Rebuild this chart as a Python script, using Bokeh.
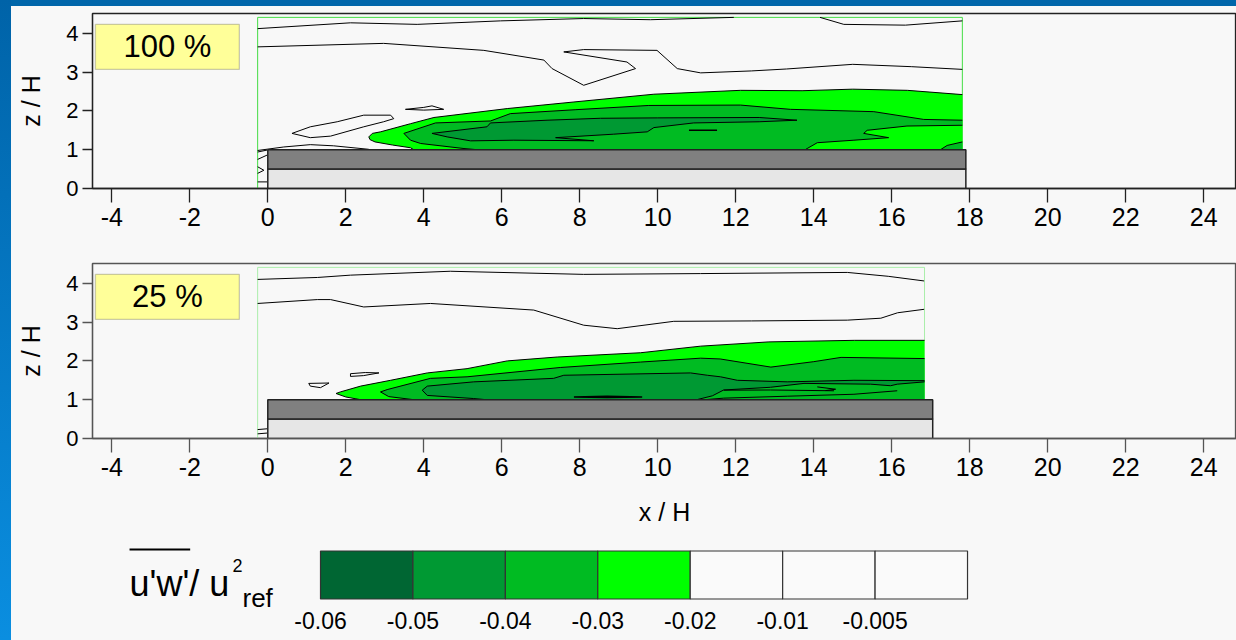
from bokeh.plotting import figure
from bokeh.layouts import column, row
from bokeh.models import Range1d, FixedTicker, BoxAnnotation, Label, ColumnDataSource, Div
from bokeh.core.properties import value
from bokeh.embed import file_html
from bokeh.resources import INLINE

# ---------------- data ----------------
X_TICKS = [-4, -2, 0, 2, 4, 6, 8, 10, 12, 14, 16, 18, 20, 22, 24]
Z_TICKS = [0, 1, 2, 3, 4]
LEVEL_LABELS = ["-0.06", "-0.05", "-0.04", "-0.03", "-0.02", "-0.01", "-0.005"]
LEVEL_COLORS = ["#006633", "#009933", "#00bb22", "#00ff00", "#fafafa", "#fafafa", "#fafafa"]
PANEL_LABELS = ["100 %", "25 %"]

BUILDING_LENGTH = [17.9, 17.05]
BUILDING_HEIGHT = 1.0
BUILDING_SPLIT = 0.5
MEAS_X0 = -0.26
MEAS_X1 = [17.81, 16.84]
MEAS_Z1 = 4.41

# ---- panel 1 (100 %) contour lines ----
P1_G2_TOP_X = [2.59, 2.68, 2.89, 3.66, 4.26, 6.14, 7.85, 9.90, 12.12, 13.7, 15.0, 16.4, 17.81]
P1_G2_TOP_Z = [1.33, 1.42, 1.46, 1.67, 1.83, 2.06, 2.23, 2.43, 2.53, 2.52, 2.56, 2.53, 2.42]
P1_G2_BOT_X = [2.59, 2.62, 2.75, 3.2, 3.66, 3.74]
P1_G2_BOT_Z = [1.33, 1.26, 1.20, 1.12, 1.05, 1.0]

P1_G3_TOP_X = [3.49, 4.30, 5.71, 6.22, 7.88, 9.77, 12.12, 13.40, 15.54, 16.82, 17.81]
P1_G3_TOP_Z = [1.42, 1.69, 1.74, 1.93, 2.03, 2.14, 2.15, 2.04, 1.98, 1.78, 1.76]
P1_G3_RGT_X = [17.81, 16.39, 15.37, 15.28, 15.92, 15.03, 14.09, 13.83, 13.78]
P1_G3_RGT_Z = [1.63, 1.61, 1.50, 1.42, 1.31, 1.245, 1.18, 1.03, 1.0]
P1_G3_LFT_X = [3.49, 3.66, 3.92, 5.03, 5.37]
P1_G3_LFT_Z = [1.42, 1.245, 1.16, 1.03, 1.0]
P1_G3_BUMP_X = [17.25, 17.42, 17.81]
P1_G3_BUMP_Z = [1.0, 1.11, 1.20]

P1_G4_X = [4.21, 5.62, 5.71, 7.16, 8.53, 10.0, 12.6, 13.57, 12.6, 10.92, 9.90, 9.73, 8.87, 7.38, 8.36, 6.31, 5.20, 4.60, 4.21]
P1_G4_Z = [1.42, 1.59, 1.69, 1.76, 1.81, 1.82, 1.83, 1.76, 1.72, 1.69, 1.57, 1.46, 1.40, 1.31, 1.23, 1.245, 1.228, 1.33, 1.42]
P1_G5_X = [10.8, 11.52]
P1_G5_Z = [1.50, 1.50]

P1_W_X = [
    [-0.26, 2.12, 3.83, 5.97, 8.10, 9.81, 11.95],
    [14.16, 14.77, 16.35, 17.81],
    [-0.26, 2.97, 5.54, 7.08, 7.29, 8.10, 9.43, 9.21, 7.59, 8.10, 9.98, 10.5, 11.1, 12.4, 13.3, 15.0, 16.5, 17.81],
    [3.53, 4.0, 4.21, 4.51, 4.0, 3.53],
    [0.62, 1.09, 1.78, 2.46, 3.15, 3.23, 2.97, 2.46, 1.61, 1.09, 0.62],
    [-0.26, 0.41, 1.09, 1.69, 2.59],
    [-0.26, -0.02],
    [-0.26, -0.02],
    [-0.26, -0.10, -0.26],
    [-0.26, -0.02],
]
P1_W_Z = [
    [4.12, 4.27, 4.23, 4.32, 4.38, 4.35, 4.41],
    [4.41, 4.23, 4.21, 4.32],
    [3.65, 3.74, 3.56, 3.31, 3.09, 2.66, 3.09, 3.26, 3.52, 3.58, 3.56, 3.09, 2.98, 3.03, 3.08, 3.20, 3.14, 3.07],
    [2.04, 2.09, 2.13, 2.04, 2.02, 2.04],
    [1.42, 1.59, 1.72, 1.89, 1.89, 1.80, 1.72, 1.59, 1.35, 1.31, 1.42],
    [0.98, 1.07, 1.13, 1.10, 1.01],
    [0.94, 0.99],
    [0.75, 0.86],
    [0.56, 0.47, 0.39],
    [0.17, 0.17],
]

# ---- panel 2 (25 %) contour lines ----
P2_G2_TOP_X = [1.75, 1.86, 2.38, 3.15, 4.09, 5.11, 6.14, 7.42, 9.56, 11.1, 12.85, 15.04, 16.84]
P2_G2_TOP_Z = [1.16, 1.20, 1.35, 1.50, 1.69, 1.80, 2.00, 2.10, 2.21, 2.38, 2.49, 2.53, 2.53]
P2_G2_BOT_X = [1.75, 2.0, 2.38]
P2_G2_BOT_Z = [1.16, 1.07, 1.0]

P2_G3_TOP_X = [2.89, 3.06, 4.17, 5.11, 7.5, 9.56, 11.1, 11.6, 12.9, 14.0, 14.7, 16.84]
P2_G3_TOP_Z = [1.20, 1.26, 1.55, 1.59, 1.83, 1.97, 2.07, 2.05, 1.84, 1.98, 2.09, 2.06]
P2_G3_BOT_X = [2.89, 3.1, 3.74]
P2_G3_BOT_Z = [1.20, 1.08, 1.0]

P2_G4_TOP_X = [3.96, 4.09, 5.28, 7.33, 7.59, 10.84, 11.27, 11.61, 12.04, 13.32, 15.03, 16.84]
P2_G4_TOP_Z = [1.245, 1.35, 1.46, 1.55, 1.63, 1.69, 1.63, 1.59, 1.50, 1.46, 1.50, 1.49]
P2_G4_RGT_X = [16.84, 16.14, 15.97, 15.46, 13.75, 12.89, 11.69, 11.4, 11.0]
P2_G4_RGT_Z = [1.46, 1.40, 1.36, 1.40, 1.42, 1.32, 1.25, 1.10, 1.0]
P2_G4_LFT_X = [3.96, 4.09, 5.28, 5.6]
P2_G4_LFT_Z = [1.245, 1.11, 1.03, 1.0]

P2_G5_X = [7.85, 8.7, 9.6, 8.7, 7.85]
P2_G5_Z = [1.07, 1.09, 1.07, 1.055, 1.07]
P2_L_X = [
    [11.69, 12.89, 14.52],
    [14.09, 14.56, 14.3],
    [16.14, 15.03, 13.32, 11.69, 11.2],
]
P2_L_Z = [
    [1.245, 1.25, 1.23],
    [1.33, 1.27, 1.235],
    [1.23, 1.14, 1.09, 1.04, 1.0],
]

P2_W_X = [
    [-0.26, 1.27, 2.12, 4.68, 8.10, 11.1, 14.86, 15.91, 16.83],
    [-0.26, 1.27, 1.61, 2.46, 4.17, 6.82, 8.10, 8.96, 10.41, 12.4, 14.86, 15.72, 16.15, 16.83],
    [1.05, 1.57, 1.35, 1.09, 1.05],
    [2.12, 2.5, 2.85, 2.45, 2.12, 2.12],
    [-0.26, -0.02],
    [-0.26, -0.02],
]
P2_W_Z = [
    [4.10, 4.15, 4.21, 4.31, 4.23, 4.25, 4.28, 4.18, 4.06],
    [3.48, 3.58, 3.58, 3.39, 3.48, 3.31, 2.92, 2.83, 3.02, 3.03, 3.05, 3.10, 3.24, 3.33],
    [1.42, 1.43, 1.31, 1.35, 1.42],
    [1.67, 1.70, 1.69, 1.62, 1.60, 1.67],
    [0.23, 0.25],
    [0.12, 0.14],
]

# ---------------- styling ----------------
FONT = "Liberation Sans"
BG = "#f8f8f8"
C_BRIGHT, C_MID, C_DARK, C_DARKEST = LEVEL_COLORS[3], LEVEL_COLORS[2], LEVEL_COLORS[1], LEVEL_COLORS[0]
FIG_W = 1225
LEFT_B = 81


def chain(*segs):
    xs, zs = [], []
    for sx, sz, rev in segs:
        if rev:
            sx, sz = sx[::-1], sz[::-1]
        xs += list(sx)
        zs += list(sz)
    return xs, zs


def make_panel(height, min_top, min_bottom, frame_col, meas_col, idx, xlabel):
    p = figure(width=FIG_W, height=height,
               x_range=Range1d(-4.495, 24.84), y_range=Range1d(0, 4.51),
               output_backend="svg", toolbar_location=None,
               min_border_left=LEFT_B, min_border_right=0,
               min_border_top=min_top, min_border_bottom=min_bottom)
    p.background_fill_color = BG
    p.border_fill_color = BG
    p.outline_line_color = frame_col
    p.outline_line_width = 1.3
    p.grid.visible = False
    for ax in (p.xaxis, p.yaxis):
        ax.axis_line_color = frame_col
        ax.axis_line_width = 1.3
        ax.major_tick_line_color = frame_col
        ax.major_tick_line_width = 1.3
        ax.minor_tick_line_color = None
        ax.major_tick_in = 0
        ax.major_label_text_font = FONT
        ax.major_label_text_color = "black"
        ax.axis_label_text_font = FONT
        ax.axis_label_text_font_style = "normal"
        ax.axis_label_text_font_size = "25px"
        ax.axis_label_text_color = "black"
    p.xaxis.ticker = FixedTicker(ticks=X_TICKS)
    p.yaxis.ticker = FixedTicker(ticks=Z_TICKS)
    p.xaxis.major_label_overrides = {t: str(t) for t in X_TICKS}
    p.yaxis.major_label_overrides = {t: str(t) for t in Z_TICKS}
    p.xaxis.major_tick_out = 14
    p.yaxis.major_tick_out = 10
    p.xaxis.major_label_text_font_size = "25px"
    p.yaxis.major_label_text_font_size = "22px"
    p.xaxis.major_label_standoff = 5
    p.yaxis.major_label_standoff = 4
    p.yaxis.axis_label = "z / H"
    p.yaxis.axis_label_standoff = 18
    if xlabel:
        p.xaxis.axis_label = xlabel
        p.xaxis.axis_label_standoff = 19

    # measurement region outline
    p.line(x=[MEAS_X0, MEAS_X0, MEAS_X1[idx], MEAS_X1[idx]], y=[0, MEAS_Z1, MEAS_Z1, 0],
           line_color=meas_col, line_width=1)

    # label box
    p.add_layout(BoxAnnotation(left=-4.42, right=-0.73, bottom=3.07, top=4.23,
                               fill_color="#ffff99", fill_alpha=1.0,
                               line_color="#555555", line_width=1.3, level="overlay"))
    p.add_layout(Label(x=-2.575, y=3.65, text=PANEL_LABELS[idx], text_align="center",
                       text_baseline="middle", text_font=FONT,
                       text_font_size="31px", text_color="black", level="overlay"))
    return p


def add_building(p, idx):
    L = BUILDING_LENGTH[idx]
    p.quad(left=[0, 0], right=[L, L], bottom=[0, BUILDING_SPLIT],
           top=[BUILDING_SPLIT, BUILDING_HEIGHT],
           fill_color=["#e6e6e6", "#808080"], line_color="#222222", line_width=1.5)


# ---------------- panel 1 ----------------
p1 = make_panel(252, 7, 70, "#222222", "#44dd44", 0, None)
xr = MEAS_X1[0]
g2 = chain((P1_G2_TOP_X, P1_G2_TOP_Z, False), ([xr], [1.0], False), (P1_G2_BOT_X, P1_G2_BOT_Z, True))
g3 = chain((P1_G3_TOP_X, P1_G3_TOP_Z, False), (P1_G3_RGT_X, P1_G3_RGT_Z, False), (P1_G3_LFT_X, P1_G3_LFT_Z, True))
g3b = chain((P1_G3_BUMP_X, P1_G3_BUMP_Z, False), ([xr], [1.0], False))
p1.patches(xs=[g2[0], g3[0], g3b[0], P1_G4_X], ys=[g2[1], g3[1], g3b[1], P1_G4_Z],
           fill_color=[C_BRIGHT, C_MID, C_MID, C_DARK], line_color=None)
p1.multi_line(xs=[P1_G2_TOP_X, P1_G2_BOT_X, P1_G3_TOP_X, P1_G3_RGT_X, P1_G3_LFT_X, P1_G3_BUMP_X, P1_G4_X],
              ys=[P1_G2_TOP_Z, P1_G2_BOT_Z, P1_G3_TOP_Z, P1_G3_RGT_Z, P1_G3_LFT_Z, P1_G3_BUMP_Z, P1_G4_Z],
              line_color="black", line_width=1)
p1.line(x=P1_G5_X, y=P1_G5_Z, line_color="black", line_width=1.6)
p1.multi_line(xs=P1_W_X, ys=P1_W_Z, line_color="black", line_width=1)
add_building(p1, 0)

# ---------------- panel 2 ----------------
p2 = make_panel(272, 5, 92, "#555555", "#aaeeaa", 1, "x / H")
xr = MEAS_X1[1]
h2 = chain((P2_G2_TOP_X, P2_G2_TOP_Z, False), ([xr], [1.0], False), (P2_G2_BOT_X, P2_G2_BOT_Z, True))
h3 = chain((P2_G3_TOP_X, P2_G3_TOP_Z, False), ([xr], [1.0], False), (P2_G3_BOT_X, P2_G3_BOT_Z, True))
h4 = chain((P2_G4_TOP_X, P2_G4_TOP_Z, False), (P2_G4_RGT_X, P2_G4_RGT_Z, False), (P2_G4_LFT_X, P2_G4_LFT_Z, True))
p2.patches(xs=[h2[0], h3[0], h4[0], P2_G5_X], ys=[h2[1], h3[1], h4[1], P2_G5_Z],
           fill_color=[C_BRIGHT, C_MID, C_DARK, C_DARKEST], line_color=None)
p2.multi_line(xs=[P2_G2_TOP_X, P2_G2_BOT_X, P2_G3_TOP_X, P2_G3_BOT_X, P2_G4_TOP_X, P2_G4_RGT_X, P2_G4_LFT_X] + P2_L_X,
              ys=[P2_G2_TOP_Z, P2_G2_BOT_Z, P2_G3_TOP_Z, P2_G3_BOT_Z, P2_G4_TOP_Z, P2_G4_RGT_Z, P2_G4_LFT_Z] + P2_L_Z,
              line_color="black", line_width=1)
p2.line(x=P2_G5_X, y=P2_G5_Z, line_color="black", line_width=1.3)
p2.multi_line(xs=P2_W_X, ys=P2_W_Z, line_color="black", line_width=1)
add_building(p2, 1)

# ---------------- colour bar ----------------
p3 = figure(width=FIG_W, height=110, x_range=Range1d(-2.4667, 9.910), y_range=Range1d(110, 0),
            output_backend="svg", toolbar_location=None,
            min_border_left=LEFT_B, min_border_right=0, min_border_top=0, min_border_bottom=0,
            x_axis_type=None, y_axis_type=None)
p3.background_fill_color = BG
p3.border_fill_color = BG
p3.outline_line_color = None
p3.grid.visible = False
n = len(LEVEL_LABELS)
cb = ColumnDataSource(dict(left=list(range(n)), right=[i + 1 for i in range(n)],
                           color=LEVEL_COLORS, label=LEVEL_LABELS))
p3.quad(left="left", right="right", top=20.5, bottom=68.5, fill_color="color",
        line_color="#333333", line_width=1.2, source=cb)
p3.text(x="left", y=89.5, text="label", source=cb, text_align="center", text_baseline="middle",
        text_font=value(FONT), text_font_size="23px", text_color="black")
p3.text(x=[-2.066], y=[53], text=["u'w'/ u"], text_align="left", text_baseline="alphabetic",
        text_font=value(FONT), text_font_size="36px", text_color="black")
p3.line(x=[-2.066, -1.41], y=[19, 19], line_color="black", line_width=2)
p3.text(x=[-0.952], y=[35], text=["2"], text_align="left", text_baseline="alphabetic",
        text_font=value(FONT), text_font_size="18px", text_color="black")
p3.text(x=[-0.844], y=[67], text=["ref"], text_align="left", text_baseline="alphabetic",
        text_font=value(FONT), text_font_size="26px", text_color="black")

# blue page frame (left and top bands)
left_band = Div(text="", width=11, height=640, margin=0,
                styles={"background": "linear-gradient(to bottom, #0063a8 0%, #0a8ee0 100%)"})
top_band = Div(text="", width=FIG_W, height=6, margin=0,
               styles={"background": "#0066aa"})

inner = column(top_band, p1, p2, p3, spacing=0, styles={"background": BG})
layout = row(left_band, inner, spacing=0, styles={"background": BG})
open("out.html", "w").write(file_html(layout, INLINE))
